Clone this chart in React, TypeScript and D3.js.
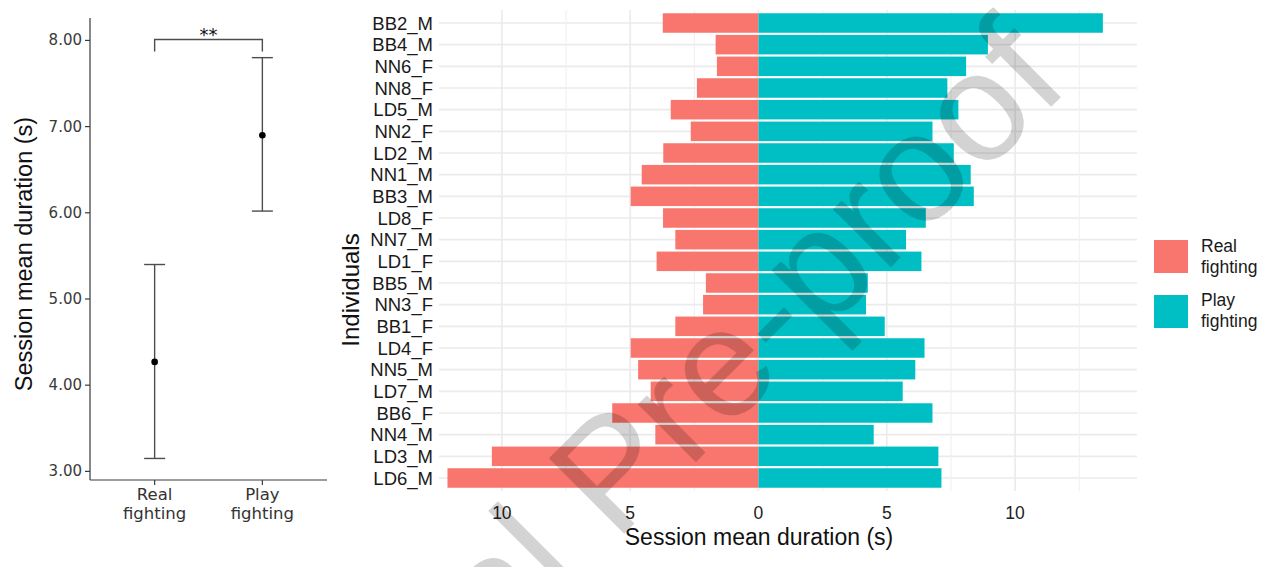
import React from 'react';
import * as d3 from 'd3';

// left panel: mean session duration with error bars
const groups = ['Real fighting', 'Play fighting'];
const groupMeans = [4.27, 6.9];
const groupLow = [3.15, 6.02];
const groupHigh = [5.4, 7.8];
const leftTicks = [3, 4, 5, 6, 7, 8];

// right panel: per individual
const individuals = [
  'BB2_M', 'BB4_M', 'NN6_F', 'NN8_F', 'LD5_M', 'NN2_F', 'LD2_M', 'NN1_M',
  'BB3_M', 'LD8_F', 'NN7_M', 'LD1_F', 'BB5_M', 'NN3_F', 'BB1_F', 'LD4_F',
  'NN5_M', 'LD7_M', 'BB6_F', 'NN4_M', 'LD3_M', 'LD6_M',
];
const realFighting = [
  3.73, 1.67, 1.62, 2.4, 3.42, 2.64, 3.71, 4.55, 4.98, 3.72, 3.24,
  3.97, 2.05, 2.16, 3.24, 4.98, 4.69, 4.2, 5.7, 4.02, 10.39, 12.12,
];
const playFighting = [
  13.42, 8.94, 8.09, 7.36, 7.79, 6.78, 7.61, 8.27, 8.39, 6.52, 5.75,
  6.35, 4.26, 4.19, 4.92, 6.47, 6.11, 5.62, 6.78, 4.49, 7.01, 7.13,
];
const rightTicks = [-10, -5, 0, 5, 10];
const minorTicks = [-7.5, -2.5, 2.5, 7.5, 12.5];

const RED = '#F8766D';
const TEAL = '#00BFC4';
const SANS = '"Liberation Sans", Arial, sans-serif';
const DEJAVU = '"DejaVu Sans", Verdana, sans-serif';

const App = () => {
  // ---- left panel scales
  const ly = d3.scaleLinear().domain([2.9, 8.26]).range([480, 18]);
  const lx = d3.scalePoint().domain(groups).range([90, 327]).padding(0.6);

  // ---- right panel scales
  const rx = d3.scaleLinear().domain([-12.45, 14.75]).range([439, 1137]);
  const ry = d3.scaleBand().domain(individuals).range([10, 491]).paddingInner(0.1).paddingOuter(0.15);
  const bh = ry.bandwidth();

  const bx1 = lx(groups[0]);
  const bx2 = lx(groups[1]);

  return (
    <svg
      width={1270}
      height={567}
      style={{ position: 'absolute', left: 0, top: 0, background: '#fff' }}
    >
      {/* ---------- left panel ---------- */}
      <g>
        <line x1={90} x2={90} y1={18} y2={480} stroke="#3a3a3a" strokeWidth={1.2} />
        <line x1={90} x2={327} y1={480} y2={480} stroke="#3a3a3a" strokeWidth={1.2} />
        {leftTicks.map((t) => (
          <g key={t}>
            <line x1={85} x2={90} y1={ly(t)} y2={ly(t)} stroke="#3a3a3a" strokeWidth={1.2} />
            <text
              x={82}
              y={ly(t)}
              textAnchor="end"
              dominantBaseline="central"
              fontFamily={DEJAVU}
              fontSize={15}
              fill="#3a3a3a"
            >
              {t.toFixed(2)}
            </text>
          </g>
        ))}
        {groups.map((g) => {
          const [a, b] = g.split(' ');
          return (
            <g key={g}>
              <line x1={lx(g)} x2={lx(g)} y1={480} y2={485} stroke="#3a3a3a" strokeWidth={1.2} />
              <text x={lx(g)} y={500} textAnchor="middle" fontFamily={DEJAVU} fontSize={16.5} fill="#333">
                {a}
              </text>
              <text x={lx(g)} y={519} textAnchor="middle" fontFamily={DEJAVU} fontSize={16.5} fill="#333">
                {b}
              </text>
            </g>
          );
        })}
        {groups.map((g, i) => (
          <g key={g} stroke="#4d4d4d" strokeWidth={1.4}>
            <line x1={lx(g)} x2={lx(g)} y1={ly(groupLow[i])} y2={ly(groupHigh[i])} />
            <line x1={lx(g) - 10.5} x2={lx(g) + 10.5} y1={ly(groupLow[i])} y2={ly(groupLow[i])} />
            <line x1={lx(g) - 10.5} x2={lx(g) + 10.5} y1={ly(groupHigh[i])} y2={ly(groupHigh[i])} />
            <circle cx={lx(g)} cy={ly(groupMeans[i])} r={3.3} fill="#000" stroke="none" />
          </g>
        ))}
        {/* significance bracket */}
        <path
          d={`M${bx1},${ly(7.87)}V${ly(8.01)}H${bx2}V${ly(7.87)}`}
          fill="none"
          stroke="#4d4d4d"
          strokeWidth={1.4}
        />
        <text x={(bx1 + bx2) / 2} y={41} textAnchor="middle" fontFamily={DEJAVU} fontSize={18} fill="#111">
          **
        </text>
        <text
          transform="translate(31.5,254) rotate(-90)"
          textAnchor="middle"
          fontFamily={SANS}
          fontSize={23.5}
          fill="#111"
        >
          Session mean duration (s)
        </text>
      </g>

      {/* ---------- right panel ---------- */}
      <g>
        {individuals.map((d) => (
          <line
            key={d}
            x1={439}
            x2={1137}
            y1={ry(d) + bh / 2}
            y2={ry(d) + bh / 2}
            stroke="#ebebeb"
            strokeWidth={1.6}
          />
        ))}
        {minorTicks.map((t) => (
          <line key={t} x1={rx(t)} x2={rx(t)} y1={10} y2={491} stroke="#f0f0f0" strokeWidth={1.1} />
        ))}
        {rightTicks.map((t) => (
          <line key={t} x1={rx(t)} x2={rx(t)} y1={10} y2={491} stroke="#ebebeb" strokeWidth={1.6} />
        ))}
        {individuals.map((d, i) => (
          <g key={d}>
            <rect
              x={rx(-realFighting[i])}
              y={ry(d)}
              width={rx(0) - rx(-realFighting[i])}
              height={bh}
              fill={RED}
            />
            <rect x={rx(0)} y={ry(d)} width={rx(playFighting[i]) - rx(0)} height={bh} fill={TEAL} />
            <text
              x={433}
              y={ry(d) + bh / 2}
              textAnchor="end"
              dominantBaseline="central"
              fontFamily={SANS}
              fontSize={18.5}
              fill="#1a1a1a"
            >
              {d}
            </text>
          </g>
        ))}
        {rightTicks.map((t) => (
          <text
            key={t}
            x={rx(t)}
            y={519}
            textAnchor="middle"
            fontFamily={SANS}
            fontSize={17.5}
            fill="#222"
          >
            {Math.abs(t)}
          </text>
        ))}
        <text x={759} y={545} textAnchor="middle" fontFamily={SANS} fontSize={23} fill="#111">
          Session mean duration (s)
        </text>
        <text
          transform="translate(359,290) rotate(-90)"
          textAnchor="middle"
          fontFamily={SANS}
          fontSize={24}
          fill="#111"
        >
          Individuals
        </text>
      </g>

      {/* ---------- legend ---------- */}
      <g fontFamily={SANS} fontSize={17.5} fill="#1a1a1a">
        <rect x={1154} y={240} width={34} height={33} fill={RED} />
        <text x={1201} y={252}>Real</text>
        <text x={1201} y={273}>fighting</text>
        <rect x={1154} y={295} width={34} height={33} fill={TEAL} />
        <text x={1201} y={306}>Play</text>
        <text x={1201} y={327}>fighting</text>
      </g>

      {/* watermark */}
      <text
        transform="translate(1072,86) rotate(-45)"
        textAnchor="end"
        fontFamily={SANS}
        fontSize={155}
        fill="#000"
        opacity={0.17}
      >
        Journal Pre-proof
      </text>
    </svg>
  );
};

export default App;
